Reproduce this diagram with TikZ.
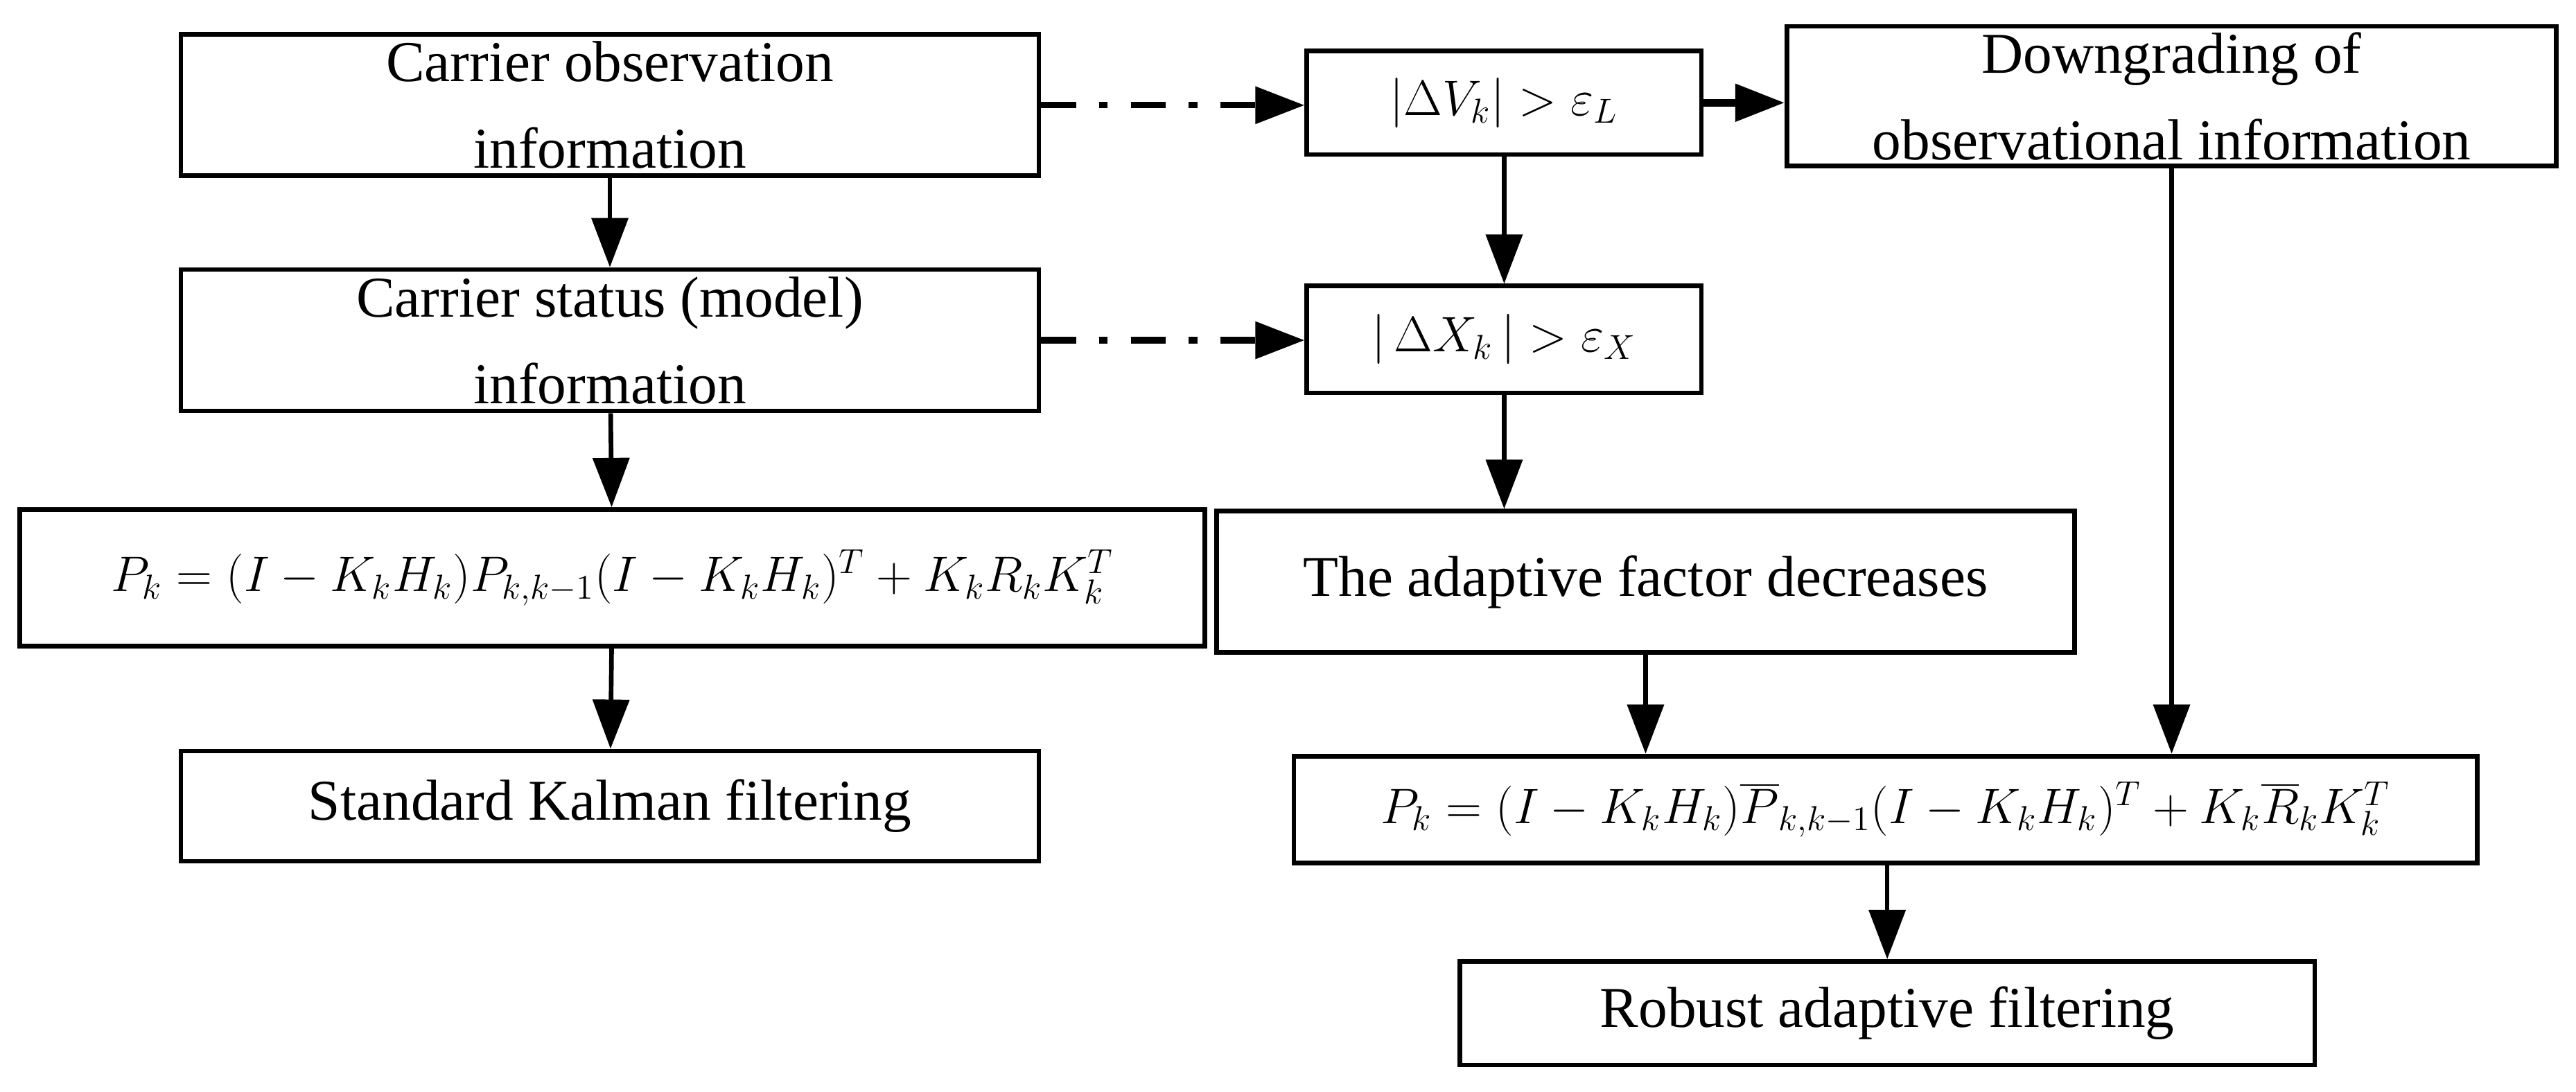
\documentclass[tikz,border=0pt]{standalone}
\usepackage{fontspec}
\setmainfont{Liberation Serif}
\usetikzlibrary{arrows.meta}
\begin{document}
\begin{tikzpicture}[x=0.02cm,y=-0.02cm,
  box/.style={draw,line width=1.6pt,inner sep=0pt,align=center,font=\fontsize{20}{30}\selectfont},
  mbox/.style={box,font=\fontsize{18}{20}\selectfont},
  arr/.style={line width=1.6pt,-{Triangle[length=0.6cm,width=0.44cm]}},
  darr/.style={arr,line width=2.2pt,dash pattern=on 12pt off 8pt on 3pt off 8pt}]
\useasboundingbox (0,0) rectangle (1567,664);
\node[box,minimum width=522*0.02cm,minimum height=86*0.02cm] (b1) at (371,64) {Carrier observation\\information};
\node[box,minimum width=522*0.02cm,minimum height=86*0.02cm] (b2) at (371,207) {Carrier status (model)\\information};
\node[mbox,minimum width=721*0.02cm,minimum height=83*0.02cm] (p1) at (372.5,351.5) {$P_k=(I-K_kH_k)P_{k,k-1}(I-K_kH_k)^T+K_kR_kK_k^T$};
\node[box,minimum width=522*0.02cm,minimum height=67*0.02cm] (std) at (371,490.5) {Standard Kalman filtering};
\node[mbox,minimum width=240*0.02cm,minimum height=63*0.02cm] (dv) at (915,62.5) {$|\Delta V_k|>\varepsilon_L$};
\node[mbox,minimum width=240*0.02cm,minimum height=65*0.02cm] (dx) at (915,206.5) {$|\,\Delta X_k\,|>\varepsilon_X$};
\node[box,minimum width=522*0.02cm,minimum height=86*0.02cm] (ad) at (1001,354) {The adaptive factor decreases};
\node[box,minimum width=468*0.02cm,minimum height=85*0.02cm] (dg) at (1321,58.5) {Downgrading of\\observational information};
\node[mbox,minimum width=720*0.02cm,minimum height=65*0.02cm] (p2) at (1147,492.5) {$P_k=(I-K_kH_k)\overline{P}_{k,k-1}(I-K_kH_k)^T+K_k\overline{R}_kK_k^T$};
\node[box,minimum width=520*0.02cm,minimum height=63*0.02cm] (rb) at (1148,616.5) {Robust adaptive filtering};
\draw[arr] (b1) -- (b2);
\draw[arr] (b2) -- (p1);
\draw[arr] (p1) -- (std);
\draw[arr] (dv) -- (dx);
\draw[arr] (dx) -- (dx|-ad.north);
\draw[arr] (ad) -- (ad|-p2.north);
\draw[arr] (dg) -- (dg|-p2.north);
\draw[arr] (p2.south-|rb) -- (rb);
\draw[arr,line width=2.6pt] (dv.east) -- (dv.east-|dg.west);
\draw[darr] (b1.east) -- (b1.east-|dv.west);
\draw[darr] (b2.east) -- (b2.east-|dx.west);
\end{tikzpicture}
\end{document}
